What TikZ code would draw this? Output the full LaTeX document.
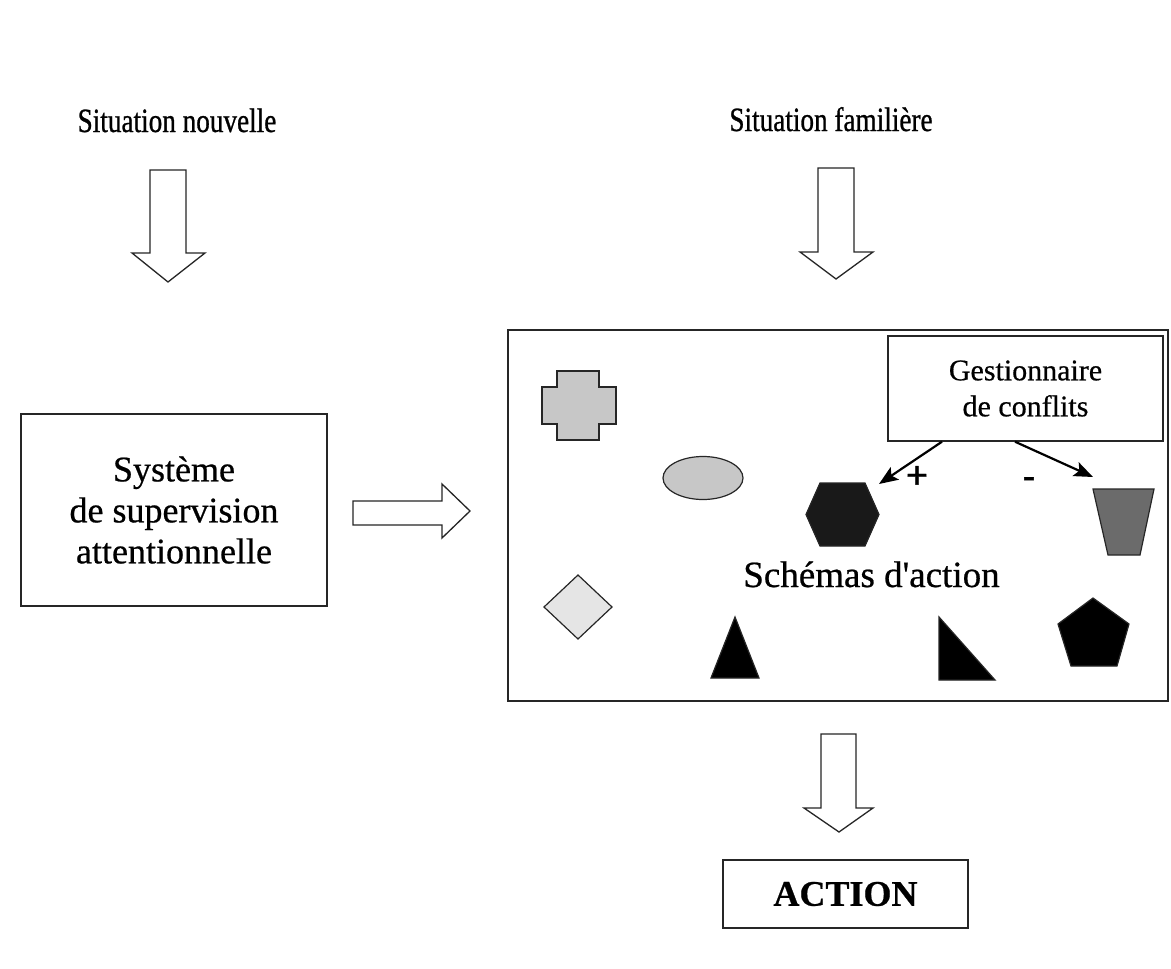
\documentclass[tikz,border=0pt]{standalone}
\usepackage{fontspec}
\setmainfont{Liberation Serif}[FakeBold=0.6]
\newfontfamily\sitfont{Liberation Serif}[FakeStretch=0.8,FakeBold=0.8]
\newfontfamily\plainfont{Liberation Serif}[Ligatures=TeXOff,FakeBold=0.6]
\newfontfamily\signfont{Liberation Sans}[FakeBold=0.8]
\usetikzlibrary{arrows.meta}
\tikzset{
  plainbox/.style={draw=black!85, line width=1.4pt, fill=white, inner sep=0pt},
  blockarrow/.style={draw=black!85, line width=1.3pt, fill=white, line join=miter},
  shapeline/.style={draw=black!85, line width=1.2pt},
  conflict/.style={draw=black, line width=2.2pt, -{Stealth[length=19pt,width=15pt,inset=4pt]}},
  toptext/.style={font=\sitfont\fontsize{34}{36}\selectfont, inner sep=0pt, anchor=base},
  signtext/.style={font=\signfont\fontsize{38}{38}\selectfont, inner sep=0pt},
}
\begin{document}
\begin{tikzpicture}[x=1pt,y=-1pt]
\useasboundingbox (0,0) rectangle (1171,969);
\fill[white] (0,0) rectangle (1171,969);

% titles
\node[toptext] (nouv) at (177,132) {Situation nouvelle};
\node[toptext] (fam) at (831,131) {Situation familière};

% left supervision box
\node[plainbox, minimum width=306pt, minimum height=192pt, align=center,
      font=\fontsize{36}{41}\selectfont] (sas) at (174,510)
      {Système\\de supervision\\attentionnelle};

% big box of schemas
\node[plainbox, minimum width=660pt, minimum height=371pt] (schemas) at (838,515.5) {};
\node[inner sep=0pt, anchor=base, font=\plainfont\fontsize{37}{42}\selectfont] (sa) at (871.5,587) {Schémas d'action};

% gestionnaire
\node[plainbox, minimum width=275pt, minimum height=105pt, align=center,
      font=\fontsize{30}{36}\selectfont] (gest) at (1025.5,388.5)
      {Gestionnaire\\de conflits};

% action box
\node[plainbox, minimum width=245pt, minimum height=68pt,
      font=\bfseries\fontsize{36}{40}\selectfont] (act) at (845.5,894) {ACTION};

% block arrows
\coordinate (a1) at (168,170);
\draw[blockarrow] (150,170) -- (186,170) -- (186,253) -- (205,253) -- (168,282) -- (132,253) -- (150,253) -- cycle;
\coordinate (a2) at (836,168);
\draw[blockarrow] (818,168) -- (854,168) -- (854,252) -- (873,252) -- (836,279) -- (800,252) -- (818,252) -- cycle;
\coordinate (a3) at (353,513);
\draw[blockarrow] (353,501) -- (442,501) -- (442,484) -- (470,511) -- (442,538) -- (442,525) -- (353,525) -- cycle;
\coordinate (a4) at (838,734);
\draw[blockarrow] (821,734) -- (856,734) -- (856,808) -- (873,808) -- (839,832) -- (804,808) -- (821,808) -- cycle;

% shapes
\draw[shapeline, fill=black!22] (557,371) -- (599,371) -- (599,387) -- (616,387) -- (616,424) -- (599,424) -- (599,440) -- (557,440) -- (557,424) -- (542,424) -- (542,387) -- (557,387) -- cycle;
\draw[shapeline, fill=black!22] (703,478) ellipse [x radius=40, y radius=21.5];
\draw[shapeline, fill=black!90] (820,483) -- (865,483) -- (879,514.5) -- (865,546) -- (820,546) -- (806,514.5) -- cycle;
\draw[shapeline, fill=black!58] (1093,489) -- (1154,489) -- (1140,555) -- (1108,555) -- cycle;
\draw[shapeline, fill=black!10] (578,575) -- (612,607) -- (578,639) -- (544,607) -- cycle;
\draw[shapeline, fill=black] (735,617) -- (759,678) -- (711,678) -- cycle;
\draw[shapeline, fill=black] (939,617) -- (939,680) -- (995,680) -- cycle;
\draw[shapeline, fill=black] (1093,598) -- (1129,624) -- (1117,666) -- (1071,666) -- (1058,624) -- cycle;

% conflict arrows
\coordinate (hexin) at (879,484);
\coordinate (trapin) at (1093,477);
\draw[conflict] (gest.south -| 942,0) -- (hexin);
\draw[conflict] (gest.south -| 1015,0) -- (trapin);
\node[signtext] (plus) at (917,477) {+};
\node[signtext] (minus) at (1029,483) {-};
\end{tikzpicture}
\end{document}
